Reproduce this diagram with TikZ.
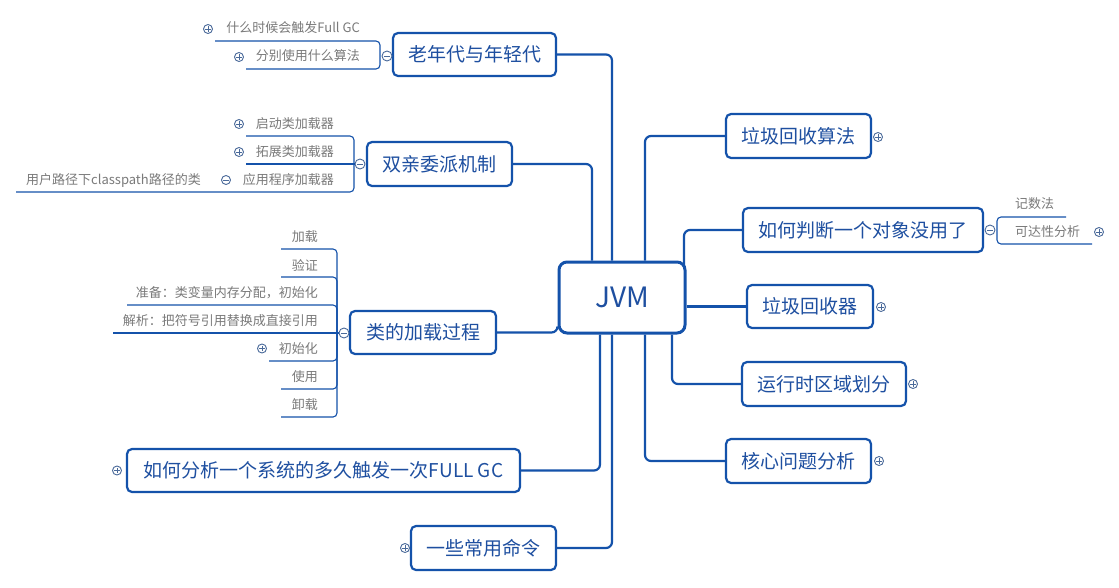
\documentclass[tikz,border=0pt]{standalone}
\usepackage{fontspec}
\setmainfont{Noto Sans CJK SC}
\definecolor{bc}{HTML}{1452AA}
\definecolor{tc}{HTML}{1E4FA0}
\definecolor{gc}{HTML}{7A7A7A}
\definecolor{ic}{HTML}{4A6A9A}
\begin{document}
\begin{tikzpicture}[x=1pt,y=-1pt,
  topic/.style={draw=bc, line width=2.2pt, rounded corners=5pt, fill=white, text=tc, inner sep=0pt, font=\fontsize{19}{22}\selectfont},
  rootbox/.style={draw=bc, line width=3pt, rounded corners=8pt, fill=white, text=tc, inner sep=0pt, font=\fontsize{28}{32}\selectfont},
  conn/.style={draw=bc, line width=2.2pt, rounded corners=6pt},
  uline/.style={draw=bc, line width=1.1pt, rounded corners=4pt},
  childtxt/.style={text=gc, inner sep=0pt, font=\fontsize{13}{15}\selectfont},
  plusic/.style={circle, draw=ic, line width=0.9pt, fill=white, minimum size=9pt, inner sep=0pt,
    path picture={\draw[ic, line width=0.9pt] ([xshift=-2.6pt]path picture bounding box.center) -- ([xshift=2.6pt]path picture bounding box.center) ([yshift=-2.6pt]path picture bounding box.center) -- ([yshift=2.6pt]path picture bounding box.center);}},
  minusic/.style={circle, draw=ic, line width=0.9pt, fill=white, minimum size=10pt, inner sep=0pt,
    path picture={\draw[ic, line width=0.9pt] ([xshift=-2.8pt]path picture bounding box.center) -- ([xshift=2.8pt]path picture bounding box.center);}}
]
\useasboundingbox[fill=white] (0,0) rectangle (1119,587);

% ---------- main topics ----------
\node[rootbox, minimum width=126pt, minimum height=71pt] (jvm) at (622,297.5) {JVM};
\node[topic, minimum width=163pt, minimum height=43pt] (old) at (474.5,54.5) {老年代与年轻代};
\node[topic, minimum width=145pt, minimum height=44pt] (sq) at (439.5,164) {双亲委派机制};
\node[topic, minimum width=146pt, minimum height=43pt] (lp) at (423,332.5) {类的加载过程};
\node[topic, minimum width=393pt, minimum height=43pt] (fg) at (323.5,470.5) {如何分析一个系统的多久触发一次FULL GC};
\node[topic, minimum width=145pt, minimum height=44pt] (cmd) at (483.5,548) {一些常用命令};
\node[topic, minimum width=145pt, minimum height=44pt] (ga) at (798.5,136) {垃圾回收算法};
\node[topic, minimum width=240pt, minimum height=44pt] (pd) at (863,230) {如何判断一个对象没用了};
\node[topic, minimum width=126pt, minimum height=43pt] (hs) at (810,306.5) {垃圾回收器};
\node[topic, minimum width=164pt, minimum height=44pt] (rt) at (824,384) {运行时区域划分};
\node[topic, minimum width=145pt, minimum height=44pt] (hx) at (798.5,461) {核心问题分析};

% ---------- connectors ----------
\draw[conn] ([xshift=-10pt]jvm.north) |- (old.east);
\draw[conn] ([xshift=-30pt]jvm.north) |- (sq.east);
\draw[conn] ([xshift=23pt]jvm.north) |- (ga.west);
\draw[conn] ([xshift=62pt,yshift=-6pt]jvm.north) |- (pd.west);
\draw[conn] (jvm.east |- hs.west) -- (hs.west);
\draw[conn] ([xshift=50pt]jvm.south) |- (rt.west);
\draw[conn] ([xshift=23pt]jvm.south) |- (hx.west);
\draw[conn] ([xshift=-22pt]jvm.south) |- (fg.east);
\draw[conn] ([xshift=-10pt]jvm.south) |- (cmd.east);
\draw[conn] (lp.east) -| ([yshift=7pt]jvm.south west);

% ---------- 老年代与年轻代 children ----------
\node[minusic] (m1) at (387,56) {};
\draw[uline] (215,41) -- (380,41) -- (380,69) -- (246,69);
\node[childtxt, anchor=east] (c11) at (360,28) {什么时候会触发Full GC};
\node[childtxt, anchor=east] (c12) at (360,56) {分别使用什么算法};
\node[plusic] (i11) at (208,29) {};
\node[plusic] (i12) at (239,57) {};

% ---------- 双亲委派机制 children ----------
\node[minusic] (m2) at (360,164) {};
\draw[uline] (246,136) -- (354,136) -- (354,192) -- (16,192);
\draw[uline] (246,164) -- (m2.west);
\node[childtxt, anchor=east] (c21) at (334,124) {启动类加载器};
\node[childtxt, anchor=east] (c22) at (334,152) {拓展类加载器};
\node[childtxt, anchor=east] (c23) at (334,180) {应用程序加载器};
\node[childtxt, anchor=west] (c231) at (26,180) {用户路径下classpath路径的类};
\node[plusic] (i21) at (239,124) {};
\node[plusic] (i22) at (239,152) {};
\node[minusic, minimum size=9pt] (i23) at (226,180) {};

% ---------- 类的加载过程 children ----------
\node[minusic] (m3) at (344,333) {};
\coordinate (b3) at (337,333);
\draw[uline] (m3.west) -- (b3);
\draw[uline] (b3) |- (281,249);
\draw[uline] (b3) |- (281,277);
\draw[uline] (b3) |- (127,305);
\draw[uline] (b3) -- (113,333);
\draw[uline] (b3) |- (269,361);
\draw[uline] (b3) |- (281,389);
\draw[uline] (b3) |- (281,417);
\node[childtxt, anchor=east] (c31) at (318,237) {加载};
\node[childtxt, anchor=east] (c32) at (318,265) {验证};
\node[childtxt, anchor=east] (c33) at (318,293) {准备：类变量内存分配，初始化};
\node[childtxt, anchor=east] (c34) at (318,321) {解析：把符号引用替换成直接引用};
\node[childtxt, anchor=east] (c35) at (318,348.5) {初始化};
\node[childtxt, anchor=east] (c36) at (318,376.5) {使用};
\node[childtxt, anchor=east] (c37) at (318,404.5) {卸载};
\node[plusic] (i35) at (262,348.5) {};

% ---------- 如何判断一个对象没用了 children ----------
\node[minusic] (m4) at (990,230) {};
\draw[uline] (1066,217) -- (997,217) -- (997,244) -- (1092,244);
\node[childtxt, anchor=west] (c41) at (1015,204) {记数法};
\node[childtxt, anchor=west] (c42) at (1015,232) {可达性分析};
\node[plusic] (i42) at (1099,232) {};

% ---------- collapsed markers ----------
\node[plusic] (ifg) at (117,470.5) {};
\node[plusic] (icmd) at (405,548) {};
\node[plusic] (iga) at (878,137) {};
\node[plusic] (ihs) at (881,307) {};
\node[plusic] (irt) at (913,384) {};
\node[plusic] (ihx) at (879,461) {};
\end{tikzpicture}
\end{document}
